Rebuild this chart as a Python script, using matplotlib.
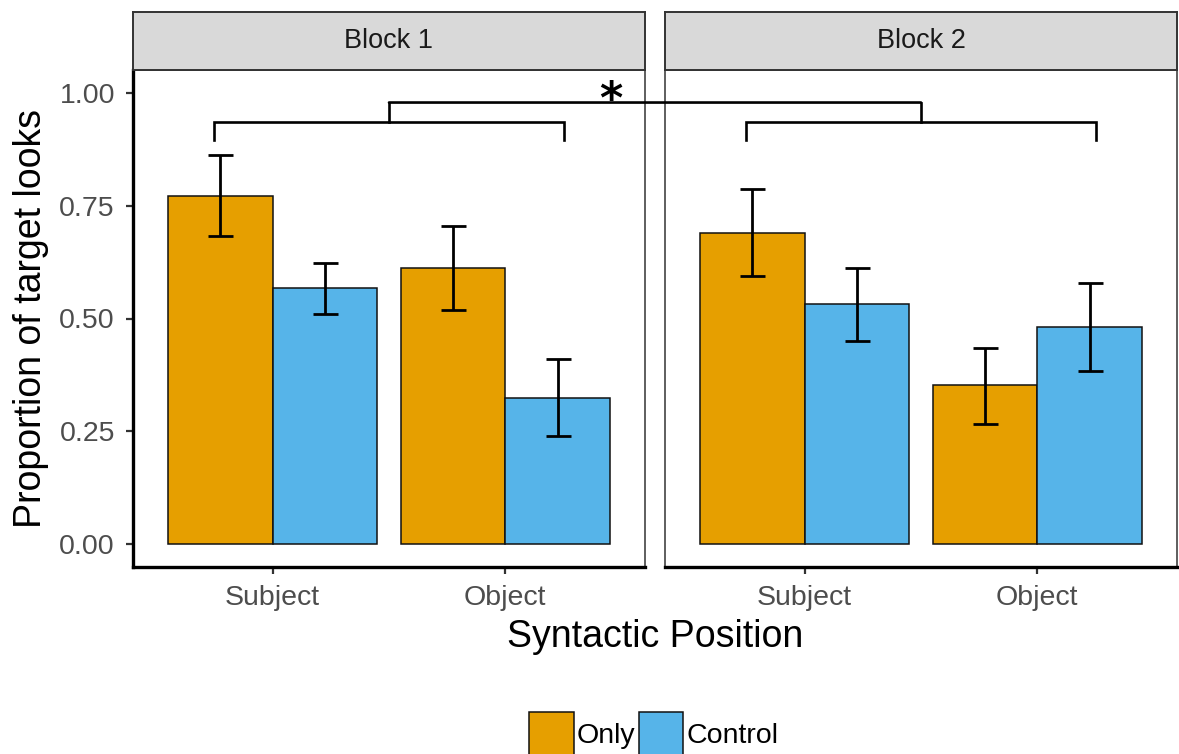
import matplotlib
matplotlib.use("Agg")
import matplotlib.pyplot as plt
import numpy as np
from matplotlib.patches import Patch, ConnectionPatch

plt.rcParams['font.family'] = ['Liberation Sans', 'DejaVu Sans']

# ---- data ----
blocks = ["Block 1", "Block 2"]
positions = ["Subject", "Object"]
conditions = ["Only", "Control"]
colors = ["#E69F00", "#56B4E9"]
means_b1_only = [0.772, 0.612]
means_b1_control = [0.567, 0.325]
means_b2_only = [0.689, 0.353]
means_b2_control = [0.532, 0.481]
lo_b1_only = [0.682, 0.519]
hi_b1_only = [0.861, 0.704]
lo_b1_control = [0.510, 0.241]
hi_b1_control = [0.623, 0.411]
lo_b2_only = [0.594, 0.267]
hi_b2_only = [0.786, 0.435]
lo_b2_control = [0.450, 0.384]
hi_b2_control = [0.611, 0.578]
yticks = [0.0, 0.25, 0.5, 0.75, 1.0]
ytick_labels = ["0.00", "0.25", "0.50", "0.75", "1.00"]

means = [[means_b1_only, means_b1_control], [means_b2_only, means_b2_control]]
los = [[lo_b1_only, lo_b1_control], [lo_b2_only, lo_b2_control]]
his = [[hi_b1_only, hi_b1_control], [hi_b2_only, hi_b2_control]]

W, H = 1179, 754
fig = plt.figure(figsize=(W / 100, H / 100), dpi=100)

def fx(px):
    return px / W

def fy(py):
    return 1 - py / H

panel_left = [133, 665]
panel_w = 512
panel_top, panel_bot = 70, 567
strip_top = 12

axes = []
x = np.arange(1, len(positions) + 1)
bw = 0.45
for b in range(2):
    ax = fig.add_axes([fx(panel_left[b]), fy(panel_bot), panel_w / W, (panel_bot - panel_top) / H])
    axes.append(ax)
    for c in range(2):
        off = (c - 0.5) * bw
        m = np.array(means[b][c])
        lo = np.array(los[b][c])
        hi = np.array(his[b][c])
        ax.bar(x + off, m, width=bw, color=colors[c], edgecolor="#111111", linewidth=1.1, zorder=2)
        ax.errorbar(x + off, m, yerr=[m - lo, hi - m], fmt="none", ecolor="black",
                    elinewidth=2.0, capsize=9, capthick=2.0, zorder=3)
    ax.set_xlim(0.4, 2.6)
    ax.set_ylim(-0.05, 1.05)
    ax.set_xticks(x)
    ax.set_xticklabels(positions)
    for s in ax.spines.values():
        s.set_color("#333333")
        s.set_linewidth(1.1)
    ax.spines["bottom"].set_color("black")
    ax.spines["bottom"].set_linewidth(2.4)
    ax.tick_params(axis="x", length=5, width=1.6, color="#333333", labelcolor="#4D4D4D",
                   labelsize=20.5, pad=8)
    if b == 0:
        ax.spines["left"].set_color("black")
        ax.spines["left"].set_linewidth(2.4)
        ax.set_yticks(yticks)
        ax.set_yticklabels(ytick_labels)
        ax.tick_params(axis="y", length=5, width=1.6, color="#333333", labelcolor="#4D4D4D",
                       labelsize=20.5, pad=8)
    else:
        ax.set_yticks([])

    # brackets
    by, bt, btop = 0.934, 0.894, 0.978
    ax.plot([0.75, 0.75, 2.25, 2.25], [bt, by, by, bt], color="black", lw=1.9,
            solid_joinstyle="miter", clip_on=False, zorder=4)
    ax.plot([1.5, 1.5], [by, btop], color="black", lw=1.9, clip_on=False, zorder=4)

    # strip
    sax = fig.add_axes([fx(panel_left[b]), fy(panel_top), panel_w / W, (panel_top - strip_top) / H])
    sax.set_facecolor("#D9D9D9")
    sax.set_xticks([])
    sax.set_yticks([])
    for s in sax.spines.values():
        s.set_color("#333333")
        s.set_linewidth(1.4)
    sax.text(0.5, 0.5, blocks[b], ha="center", va="center", fontsize=19.5, color="#1A1A1A",
             transform=sax.transAxes)

# connecting line across panels
con = ConnectionPatch(xyA=(1.5, 0.978), coordsA=axes[0].transData,
                      xyB=(1.5, 0.978), coordsB=axes[1].transData,
                      color="black", lw=1.9, zorder=5)
fig.add_artist(con)
axes[0].text(2.452, 0.982, "*", ha="center", va="center", fontsize=32, fontweight="bold",
             family="DejaVu Sans", clip_on=False, zorder=6)

# axis titles
fig.text(fx(31), fy(318), "Proportion of target looks", rotation=90, ha="center", va="center",
         fontsize=27, color="black")
fig.text(fx(655), fy(637), "Syntactic Position", ha="center", va="center", fontsize=27,
         color="black")

# legend
handles = [Patch(facecolor=colors[i], edgecolor="#111111", linewidth=1.1, label=conditions[i])
           for i in range(2)]
fig.legend(handles=handles, loc="center", bbox_to_anchor=(fx(654), fy(734)), ncol=2,
           frameon=False, fontsize=20.5, handlelength=1.55, handleheight=1.95,
           handletextpad=0.12, columnspacing=0.12, borderpad=0, borderaxespad=0)

fig.savefig("out.png", dpi=100)
